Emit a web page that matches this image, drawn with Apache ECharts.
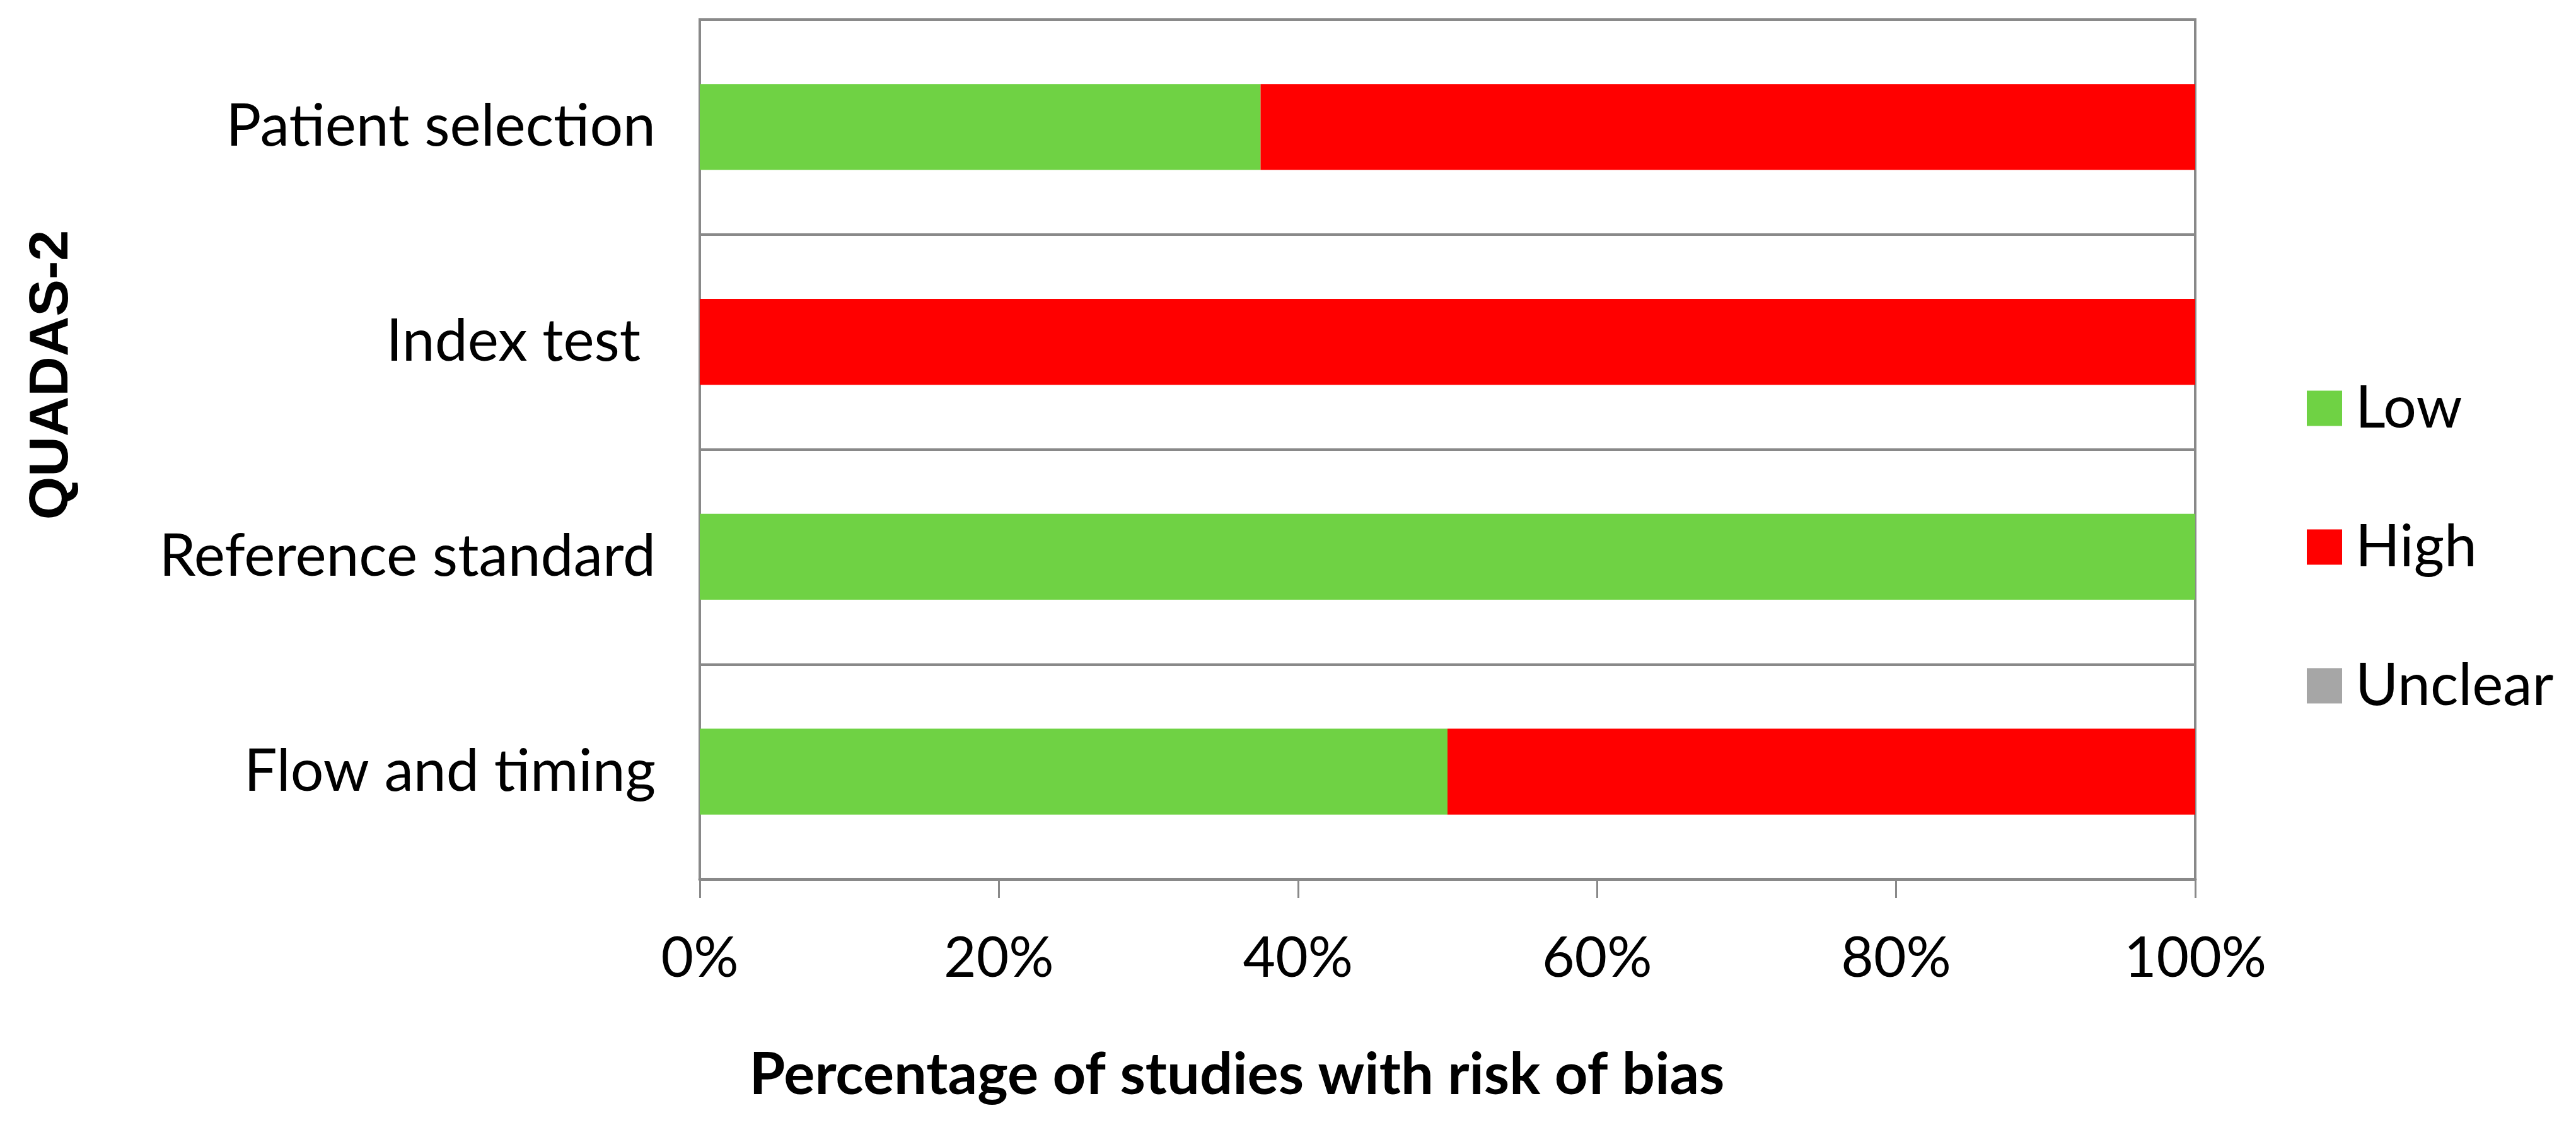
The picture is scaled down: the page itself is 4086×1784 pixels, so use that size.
<!DOCTYPE html>
<html>
<head>
<meta charset="utf-8">
<script src="https://cdn.jsdelivr.net/npm/echarts@6/dist/echarts.min.js"></script>
<style>
html,body{margin:0;padding:0;background:#fff;}
#chart{width:4086px;height:1784px;}
</style>
</head>
<body>
<div id="chart"></div>
<script>
const categories = ['Patient selection', 'Index test ', 'Reference standard', 'Flow and timing'];
const lowValues = [37.5, 0, 100, 50];
const highValues = [62.5, 100, 0, 50];
const unclearValues = [0, 0, 0, 0];
const xTicks = [0, 20, 40, 60, 80, 100];

const FONT = 'Lato';
const chart = echarts.init(document.getElementById('chart'), null, {renderer: 'canvas'});
const option = {
  backgroundColor: '#ffffff',
  animation: false,
  grid: {
    left: 1110, right: 604, top: 31, bottom: 390,
    show: true, borderColor: '#898989', borderWidth: 4, backgroundColor: 'transparent'
  },
  legend: {
    orient: 'vertical',
    left: 3654,
    top: 596,
    itemWidth: 56,
    itemHeight: 56,
    itemGap: 127,
    icon: 'rect',
    textStyle: {fontFamily: FONT, fontSize: 93, color: '#000', padding: [0, 0, 0, 16]},
    data: ['Low', 'High', 'Unclear']
  },
  xAxis: {
    type: 'value',
    min: xTicks[0],
    max: xTicks[xTicks.length - 1],
    interval: xTicks[1] - xTicks[0],
    axisLine: {show: true, lineStyle: {color: '#898989', width: 5}},
    axisTick: {show: true, length: 30, lineStyle: {color: '#898989', width: 3}},
    splitLine: {show: false},
    axisLabel: {
      formatter: '{value}%', fontFamily: FONT, fontSize: 89, color: '#000',
      margin: 126, verticalAlign: 'middle'
    },
    name: 'Percentage of studies with risk of bias',
    nameLocation: 'middle',
    nameGap: 311,
    nameTextStyle: {
      fontFamily: FONT, fontSize: 92, fontWeight: 'bold', color: '#000',
      verticalAlign: 'middle', padding: [0, 668, 0, 0]
    }
  },
  yAxis: {
    type: 'category',
    data: categories,
    inverse: true,
    axisLine: {show: true, lineStyle: {color: '#898989', width: 4}},
    axisTick: {show: false},
    splitLine: {show: true, interval: 0, lineStyle: {color: '#898989', width: 4}},
    axisLabel: {fontFamily: FONT, fontSize: 93, color: '#000', margin: 70, interval: 0},
    name: 'QUADAS-2',
    nameLocation: 'middle',
    nameGap: 1027,
    nameRotate: 90,
    nameTextStyle: {
      fontFamily: '"Liberation Sans", Arial, sans-serif', fontSize: 88, fontWeight: 'bold', color: '#000',
      verticalAlign: 'middle', padding: [0, 0, 0, 236]
    }
  },
  series: [
    {name: 'Low', type: 'bar', stack: 'total', data: lowValues, barCategoryGap: '60%', itemStyle: {color: '#6FD244'}},
    {name: 'High', type: 'bar', stack: 'total', data: highValues, itemStyle: {color: '#FF0000'}},
    {name: 'Unclear', type: 'bar', stack: 'total', data: unclearValues, itemStyle: {color: '#A6A6A6'}}
  ]
};
chart.setOption(option);
</script>
</body>
</html>
